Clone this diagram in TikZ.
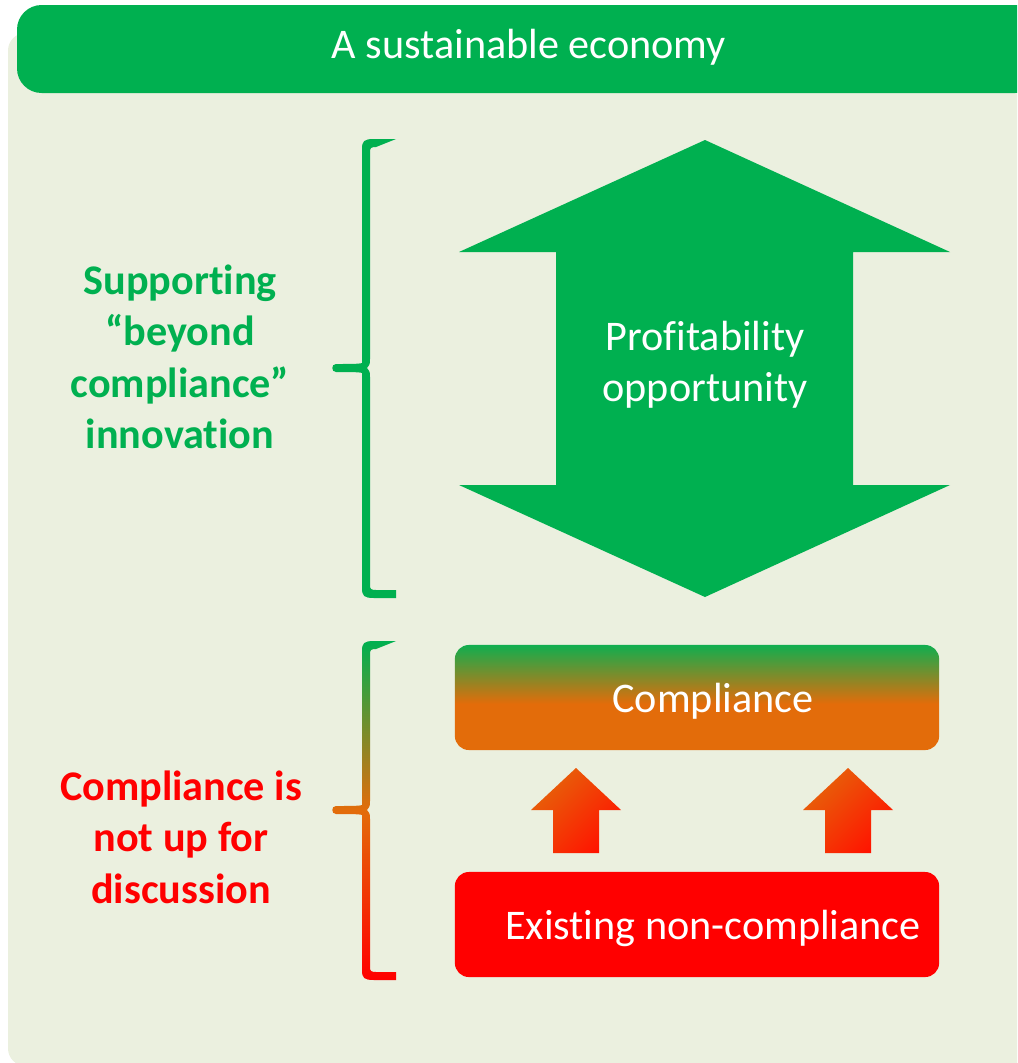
\documentclass[tikz,border=0pt]{standalone}
\usepackage{fontspec}
\setmainfont{Carlito}[Ligatures={TeX,NoCommon,NoContextual}]

\definecolor{ecogreen}{HTML}{00B050}
\definecolor{panelbg}{HTML}{EBF0DF}
\definecolor{compgreen}{HTML}{10AE4F}
\definecolor{comporange}{HTML}{E36C0A}
\definecolor{arroworange}{HTML}{E6640A}
\definecolor{arrowred}{HTML}{FF1400}

\pgfdeclareverticalshading{complshade}{100bp}{color(0bp)=(comporange); color(47bp)=(comporange); color(75bp)=(compgreen); color(100bp)=(compgreen)}
\pgfdeclareverticalshading{braceshade}{100bp}{color(0bp)=(red); color(25bp)=(red); color(50bp)=(comporange); color(75bp)=(ecogreen); color(100bp)=(ecogreen)}

% curly bracket outline: x, top, middle, bottom
\newcommand{\bracepath}[4]{%
  ({#1+30},{#2-4}) -- ({#1+8},{#2-4})
  .. controls ({#1-2},{#2-4}) and ({#1-4},{#2-2}) .. ({#1-4},{#2+6})
  -- ({#1-4},{#3-5})
  .. controls ({#1-6},{#3-4}) and ({#1-18},{#3-4}) .. ({#1-30},{#3-4})
  .. controls ({#1-35},{#3-4}) and ({#1-35},{#3+4}) .. ({#1-30},{#3+4})
  .. controls ({#1-18},{#3+4}) and ({#1-6},{#3+4}) .. ({#1-4},{#3+5})
  -- ({#1-4},{#4-6})
  .. controls ({#1-4},{#4+2}) and ({#1-2},{#4+4}) .. ({#1+8},{#4+4})
  -- ({#1+30},{#4+4}) -- ({#1+30},{#4-4}) -- ({#1+10},{#4-4})
  .. controls ({#1+5},{#4-4}) and ({#1+4},{#4-5}) .. ({#1+4},{#4-9})
  -- ({#1+4},{#3+9})
  .. controls ({#1+4},{#3+4}) .. ({#1+1},{#3})
  .. controls ({#1+4},{#3-4}) .. ({#1+4},{#3-9})
  -- ({#1+4},{#2+9})
  .. controls ({#1+4},{#2+5}) and ({#1+5},{#2+4}) .. ({#1+10},{#2+4})
  -- cycle}

\begin{document}
\begin{tikzpicture}[x=0.01cm, y=-0.01cm,
    box/.style={rounded corners=4pt, minimum width=4.84cm, minimum height=1.05cm, inner sep=0pt},
    boxtxt/.style={text=white, font=\fontsize{12pt}{14.6pt}\selectfont},
    lbl/.style={align=center, font=\fontsize{12pt}{14.6pt}\selectfont\bfseries}]
      \clip (0,0) rectangle (1017,1063);
      \fill[panelbg, rounded corners=5pt] (8,33) rectangle (1040,1066);
      \fill[ecogreen, rounded corners=7pt] (17,5) rectangle (1040,93);
      \node[boxtxt] (title) at (529,47) {A sustainable economy};

      % upper part
      \fill[ecogreen] \bracepath{366}{143}{368}{594};
      \node[lbl, text=ecogreen] (beyond) at (180,357) {Supporting\\“beyond\\compliance”\\innovation};
      \fill[ecogreen] (705,140) -- (950,252) -- (853,252) -- (853,485) -- (950,485)
        -- (705,597) -- (459,485) -- (556,485) -- (556,252) -- (459,252) -- cycle;
      \node[boxtxt, align=center] (profit) at (705,365) {Profitability\\opportunity};

      % lower part
      \shade[shading=braceshade] \bracepath{366}{645}{810}{976};
      \node[lbl, text=red] (notup) at (181,837) {Compliance is\\not up for\\discussion};
      \node[box, shade, shading=complshade] (compl) at (697,697.5) {};
      \node[boxtxt, xshift=0.16cm, yshift=-0.04cm] (compltxt) at (compl) {Compliance};
      \node[box, fill=red] (exist) at (697,924.5) {};
      \node[boxtxt, xshift=0.16cm, yshift=-0.04cm] (existtxt) at (exist) {Existing non-compliance};
      \foreach \ax in {576,848}
        \shade[top color=arroworange, bottom color=arrowred, shading angle=45]
          (\ax,768) -- ({\ax+45},810) -- ({\ax+23},810) -- ({\ax+23},853)
          -- ({\ax-23},853) -- ({\ax-23},810) -- ({\ax-45},810) -- cycle;
    \end{tikzpicture}
\end{document}
